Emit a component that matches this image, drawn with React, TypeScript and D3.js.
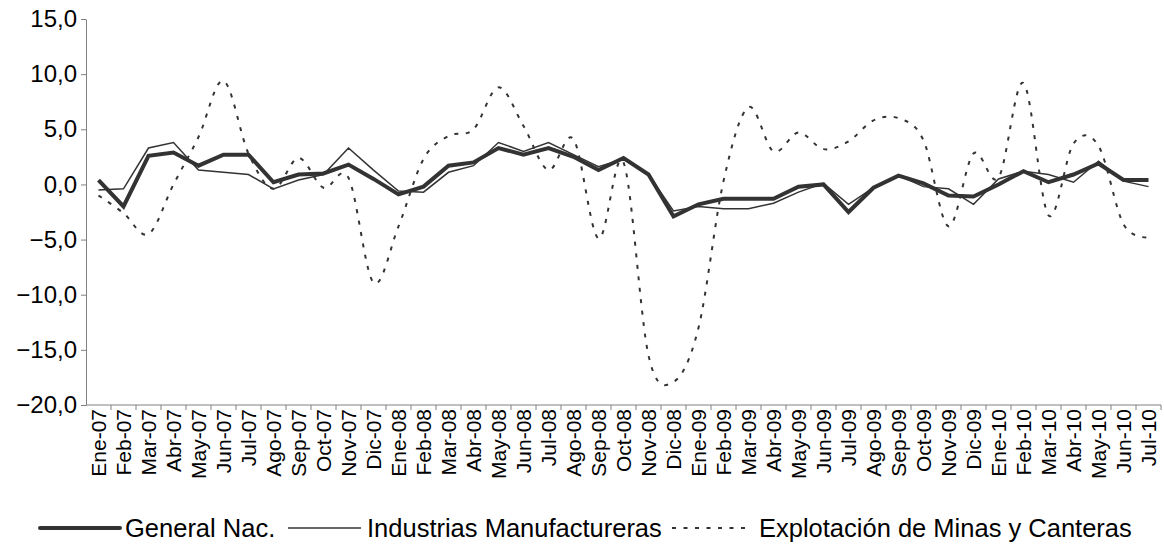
// @ts-nocheck
import * as d3 from "d3";
import { useEffect, useRef } from "react";

const months = [
  "Ene-07", "Feb-07", "Mar-07", "Abr-07", "May-07", "Jun-07", "Jul-07", "Ago-07", "Sep-07", "Oct-07", "Nov-07", "Dic-07",
  "Ene-08", "Feb-08", "Mar-08", "Abr-08", "May-08", "Jun-08", "Jul-08", "Ago-08", "Sep-08", "Oct-08", "Nov-08", "Dic-08",
  "Ene-09", "Feb-09", "Mar-09", "Abr-09", "May-09", "Jun-09", "Jul-09", "Ago-09", "Sep-09", "Oct-09", "Nov-09", "Dic-09",
  "Ene-10", "Feb-10", "Mar-10", "Abr-10", "May-10", "Jun-10", "Jul-10",
];

const generalNac = [
  0.4, -2.0, 2.6, 2.9, 1.7, 2.7, 2.7, 0.2, 0.9, 1.0, 1.8, 0.5,
  -0.9, -0.2, 1.7, 2.0, 3.3, 2.7, 3.3, 2.5, 1.3, 2.4, 0.9, -2.9,
  -1.8, -1.3, -1.3, -1.3, -0.2, 0.0, -2.5, -0.3, 0.8, 0.1, -1.0, -1.1,
  0.0, 1.2, 0.2, 0.9, 1.9, 0.4, 0.4,
];

const industrias = [
  -0.5, -0.4, 3.3, 3.8, 1.3, 1.1, 0.9, -0.4, 0.4, 0.9, 3.3, 1.3,
  -0.6, -0.7, 1.1, 1.7, 3.8, 3.0, 3.8, 2.7, 1.6, 2.3, 0.9, -2.4,
  -2.0, -2.2, -2.2, -1.7, -0.7, 0.1, -1.8, -0.3, 0.8, -0.2, -0.4, -1.8,
  0.5, 1.2, 0.9, 0.2, 2.1, 0.3, -0.2,
];

const minas = [
  -1.0, -2.6, -4.5, 0.0, 4.3, 9.4, 2.8, -0.4, 2.4, -0.3, 0.6, -8.9,
  -3.8, 2.3, 4.4, 5.0, 8.8, 5.3, 1.3, 4.1, -4.9, 2.0, -15.5, -17.9,
  -13.0, 0.3, 7.0, 3.0, 4.7, 3.2, 3.9, 5.8, 6.0, 4.0, -3.8, 2.8,
  0.6, 9.2, -2.8, 3.7, 3.5, -3.6, -4.8,
];

const yTicks = [-20, -15, -10, -5, 0, 5, 10, 15];

const series = [
  { name: "General Nac.", values: generalNac, width: 4, dash: null, smooth: false },
  { name: "Industrias Manufactureras", values: industrias, width: 1.5, dash: null, smooth: false },
  { name: "Explotación de Minas y Canteras", values: minas, width: 2, dash: "4,7.5", smooth: true },
];

const W = 1164, H = 556;
const FONT = "'Liberation Sans', Arial, sans-serif";

export default function App() {
  const ref = useRef(null);

  useEffect(() => {
    const svg = d3.select(ref.current);
    svg.selectAll("*").remove();

    const left = 86, right = 1161, top = 19, bottom = 405;

    const x = d3.scaleBand().domain(months).range([left, right]).padding(0);
    const y = d3.scaleLinear().domain([-20, 15]).range([bottom, top]);
    const cx = (i) => x(months[i]) + x.bandwidth() / 2;

    // y axis
    const yAxis = svg.append("g")
      .attr("transform", `translate(${left},0)`)
      .call(d3.axisLeft(y).tickValues(yTicks).tickSize(5).tickSizeOuter(0)
        .tickFormat((d) => d3.format(".1f")(d).replace(".", ",")));
    yAxis.select(".domain").attr("stroke", "#808080");
    yAxis.selectAll(".tick line").attr("stroke", "#808080");
    yAxis.selectAll("text")
      .attr("x", -9)
      .style("font-family", FONT)
      .style("font-size", "24px")
      .attr("fill", "#000");

    // x axis: ticks between categories
    const xg = svg.append("g");
    xg.append("line")
      .attr("x1", left).attr("x2", right)
      .attr("y1", bottom).attr("y2", bottom)
      .attr("stroke", "#808080");
    xg.selectAll("line.tk")
      .data(months.map((m, i) => i + 1))
      .enter()
      .append("line")
      .attr("class", "tk")
      .attr("x1", (i) => x.range()[0] + i * x.bandwidth())
      .attr("x2", (i) => x.range()[0] + i * x.bandwidth())
      .attr("y1", bottom)
      .attr("y2", bottom + 5)
      .attr("stroke", "#808080");
    xg.selectAll("text")
      .data(months)
      .enter()
      .append("text")
      .attr("transform", (d, i) => `translate(${cx(i)},${bottom + 4}) rotate(-90)`)
      .attr("text-anchor", "end")
      .attr("dy", "0.36em")
      .style("font-family", FONT)
      .style("font-size", "21px")
      .attr("fill", "#000")
      .text((d) => d);

    // lines
    series.forEach((s) => {
      const line = d3.line()
        .x((d, i) => cx(i))
        .y((d) => y(d))
        .curve(s.smooth ? d3.curveCardinal.tension(0) : d3.curveLinear);
      svg.append("path")
        .datum(s.values)
        .attr("d", line)
        .attr("fill", "none")
        .attr("stroke", "#333")
        .attr("stroke-width", s.width)
        .attr("stroke-dasharray", s.dash)
        .attr("stroke-linejoin", "miter");
    });

    // legend
    const legendPos = [
      { lx: 40, len: 80, tx: 125 },
      { lx: 288, len: 73, tx: 367 },
      { lx: 672, len: 80, tx: 759 },
    ];
    const lg = svg.append("g").attr("transform", "translate(0,528)");
    series.forEach((s, k) => {
      const p = legendPos[k];
      lg.append("line")
        .attr("x1", p.lx).attr("x2", p.lx + p.len)
        .attr("y1", 0).attr("y2", 0)
        .attr("stroke", "#333")
        .attr("stroke-width", s.width)
        .attr("stroke-linecap", k === 0 ? "round" : "butt")
        .attr("stroke-dasharray", s.dash);
      lg.append("text")
        .attr("x", p.tx)
        .attr("y", 0)
        .attr("dy", "0.36em")
        .style("font-family", FONT)
        .style("font-size", "25.5px")
        .attr("fill", "#000")
        .text(s.name);
    });
  }, []);

  return (
    <svg
      ref={ref}
      width={W}
      height={H}
      style={{ position: "absolute", left: 0, top: 0, background: "#fff" }}
    />
  );
}
